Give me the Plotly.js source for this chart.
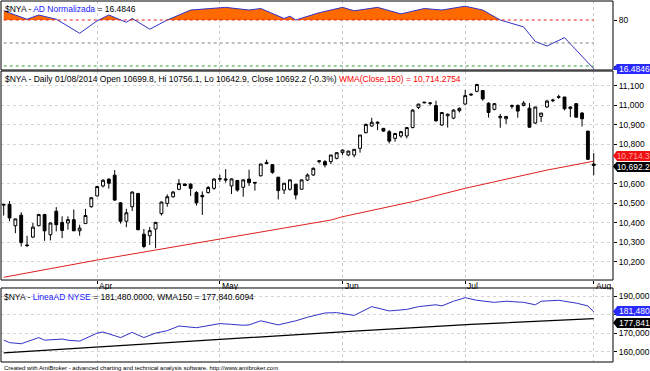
<!DOCTYPE html>
<html><head><meta charset="utf-8">
<script src="https://cdn.plot.ly/plotly-3.0.1.min.js"></script>
<style>html,body{margin:0;padding:0;background:#fff}#chart{width:650px;height:371px}</style>
</head><body><div id="chart"></div>
<script>
// ---------------- DATA ----------------
const dates = ['2014-03-10','2014-03-11','2014-03-12','2014-03-13','2014-03-14','2014-03-17','2014-03-18','2014-03-19','2014-03-20','2014-03-21','2014-03-24','2014-03-25','2014-03-26','2014-03-27','2014-03-28','2014-03-31',
'2014-04-01','2014-04-02','2014-04-03','2014-04-04','2014-04-07','2014-04-08','2014-04-09','2014-04-10','2014-04-11','2014-04-14','2014-04-15','2014-04-16','2014-04-17','2014-04-21','2014-04-22','2014-04-23','2014-04-24','2014-04-25','2014-04-28','2014-04-29','2014-04-30',
'2014-05-01','2014-05-02','2014-05-05','2014-05-06','2014-05-07','2014-05-08','2014-05-09','2014-05-12','2014-05-13','2014-05-14','2014-05-15','2014-05-16','2014-05-19','2014-05-20','2014-05-21','2014-05-22','2014-05-23','2014-05-27','2014-05-28','2014-05-29','2014-05-30',
'2014-06-02','2014-06-03','2014-06-04','2014-06-05','2014-06-06','2014-06-09','2014-06-10','2014-06-11','2014-06-12','2014-06-13','2014-06-16','2014-06-17','2014-06-18','2014-06-19','2014-06-20','2014-06-23','2014-06-24','2014-06-25','2014-06-26','2014-06-27','2014-06-30',
'2014-07-01','2014-07-02','2014-07-03','2014-07-07','2014-07-08','2014-07-09','2014-07-10','2014-07-11','2014-07-14','2014-07-15','2014-07-16','2014-07-17','2014-07-18','2014-07-21','2014-07-22','2014-07-23','2014-07-24','2014-07-25','2014-07-28','2014-07-29','2014-07-30','2014-07-31',
'2014-08-01'];
const openP = [10490,10494,10385,10439,10287,10327,10385,10442,10339,10459,10402,10399,10416,10359,10396,10482,
10537,10588,10623,10643,10502,10408,10482,10550,10342,10334,10368,10447,10499,10533,10571,10598,10597,10554,10540,10554,10576,
10622,10624,10588,10616,10581,10623,10602,10640,10708,10697,10633,10567,10571,10597,10571,10618,10644,10712,10712,10712,10729,
10758,10746,10746,10780,10860,10894,10908,10882,10865,10831,10843,10843,10886,10989,11012,11010,10998,10899,10946,10934,10972,
11006,11052,11071,11075,11010,10979,10936,10931,10994,10999,10999,10985,10909,10943,10991,11023,11040,11042,10983,11008,10960,10868,
10699.8];
const highP = [10496,10511,10420,10454,10334,10399,10446,10446,10402,10480,10433,10433,10468,10390,10471,10530,
10588,10623,10626,10669,10505,10471,10560,10552,10368,10378,10405,10508,10545,10562,10623,10600,10602,10562,10560,10588,10628,
10645,10674,10626,10619,10622,10671,10608,10702,10722,10700,10633,10602,10622,10597,10622,10652,10683,10720,10720,10746,10758,
10775,10768,10775,10848,10907,10936,10916,10882,10873,10856,10869,10889,10980,11006,11016,11015,11023,10963,10958,10980,10989,
11078,11060,11109,11075,11015,11011,10956,10943,11004,11004,11021,11011,10991,10960,11028,11033,11054,11042,10994,11011,10965,10868,
10756.1];
const lowP = [10437,10408,10347,10279,10276,10322,10382,10308,10310,10356,10322,10365,10359,10334,10396,10477,
10535,10580,10574,10511,10396,10378,10460,10361,10270,10287,10270,10437,10482,10528,10566,10588,10537,10488,10440,10550,10568,
10610,10605,10547,10559,10533,10588,10564,10636,10700,10650,10519,10547,10564,10519,10570,10613,10639,10703,10683,10700,10724,
10746,10740,10734,10758,10856,10890,10873,10865,10805,10814,10834,10831,10882,10980,11010,10999,10917,10894,10886,10929,10963,
11002,11047,11066,11023,10937,10974,10885,10905,10982,10936,10994,10885,10905,10914,10987,11016,11033,10974,10939,10936,10891,10720,
10642.9];
const closeP = [10494,10425,10420,10299,10284,10378,10442,10359,10399,10390,10361,10416,10359,10373,10437,10528,
10585,10617,10602,10516,10408,10451,10557,10365,10279,10360,10402,10506,10533,10557,10600,10590,10576,10502,10533,10580,10623,
10626,10619,10624,10567,10619,10605,10606,10700,10702,10657,10564,10602,10619,10542,10619,10644,10678,10716,10695,10746,10758,
10771,10766,10775,10848,10902,10913,10913,10868,10817,10856,10865,10886,10975,11006,11015,11011,10920,10963,10954,10975,10984,
11049,11056,11106,11032,10963,11008,10943,10943,10998,10970,11011,10888,10991,10960,11021,11026,11043,10982,10991,10939,10931,10724,
10692.2];

// WMA(Close,150)
const wmaDates = ['2014-03-10','2014-04-01','2014-04-15','2014-05-01','2014-05-29','2014-06-02','2014-06-18','2014-07-01','2014-07-22','2014-08-01'];
const wmaVals  = [10122,10210,10261,10318,10414,10431,10508,10576,10669,10714.2754];

// AD Normalizada (top panel)
const adDates = ['2014-03-10','2014-03-14','2014-03-18','2014-03-21','2014-03-24','2014-03-27','2014-04-01','2014-04-03','2014-04-08','2014-04-09','2014-04-14','2014-04-17','2014-04-24','2014-05-02','2014-05-08','2014-05-12','2014-05-16','2014-05-19','2014-05-20','2014-05-27','2014-06-02','2014-06-04','2014-06-10','2014-06-16','2014-06-20','2014-06-25','2014-07-01','2014-07-07','2014-07-10','2014-07-16','2014-07-18','2014-07-22','2014-07-25','2014-07-29','2014-08-01'];
const adVals  = [92,81,86.5,81,76.5,62.7,79,86.5,77,82,68,80,93,96.5,93,95,82,85,80,89.5,96.5,92,96.5,88,95,93,98,93,80,71,52,46,57,41,16.4846];
const adLevels = [80,50,20];

// LineaAD NYSE and its WMA150 (bottom panel)
const lineaDates = ['2014-03-10','2014-03-11','2014-03-13','2014-03-18','2014-03-19','2014-03-24','2014-03-25','2014-03-27','2014-04-01','2014-04-02','2014-04-07','2014-04-09','2014-04-11','2014-04-15','2014-04-17','2014-04-22','2014-04-25','2014-04-29','2014-05-01','2014-05-05','2014-05-07','2014-05-08','2014-05-12','2014-05-15','2014-05-20','2014-05-22','2014-05-28','2014-05-30','2014-06-04','2014-06-09','2014-06-12','2014-06-17','2014-06-19','2014-06-24','2014-06-25','2014-06-27','2014-07-01','2014-07-03','2014-07-09','2014-07-11','2014-07-16','2014-07-18','2014-07-21','2014-07-24','2014-07-29','2014-07-31','2014-08-01'];
const lineaVals  = [166300,165000,164400,167700,166300,166900,166300,165800,170100,170700,167700,170500,167700,170100,171400,173900,173000,173900,175200,174800,174300,174500,176700,174500,176700,178600,180900,181100,179600,184300,182000,182800,184300,185300,184700,187200,189100,187700,186600,187200,186600,185300,187200,187700,186200,184700,181480];
const lwmaDates = ['2014-03-10','2014-04-07','2014-05-06','2014-06-04','2014-07-02','2014-08-01'];
const lwmaVals  = [159500,163500,167400,171200,174800,177840.6094];

const monthTickDates = ['2014-04-01','2014-05-01','2014-06-02','2014-07-01','2014-08-01'];
const monthTickText  = ['Apr','May','Jun','Jul','Aug'];
const priceTicks = [10200,10300,10400,10500,10600,10700,10800,10900,11000,11100];
const adTicks = [20,80];
const lineaTicks = [160000,170000,180000,190000];

// ---------------- BUILD ----------------
const idx = d => dates.indexOf(d);
const X = dates.map((d,i)=>i);
const FONT = 'Liberation Sans, Arial, sans-serif';
const BLUE = '#3232c8';
const W = 650, H = 371, M = {l:1, r:37, t:1, b:9};
const plotH = H - M.t - M.b, plotW = W - M.l - M.r;

// orange fill above 80 (with crossings)
const adX = adDates.map(idx);
const lvl = adLevels[0];
const fx=[], fy=[];
for (let i=0;i<adX.length;i++){
  if (i>0){
    const v1=adVals[i-1], v2=adVals[i];
    if ((v1-lvl)*(v2-lvl)<0){
      const t=(lvl-v1)/(v2-v1);
      fx.push(adX[i-1]+t*(adX[i]-adX[i-1])); fy.push(lvl);
    }
  }
  fx.push(adX[i]); fy.push(Math.max(adVals[i],lvl));
}
const polyX = fx.concat([fx[fx.length-1], fx[0]]);
const polyY = fy.concat([lvl, lvl]);

const traces = [
  {type:'scatter', x:polyX, y:polyY, xaxis:'x', yaxis:'y', mode:'lines', fill:'toself', fillcolor:'#ff6a00', line:{width:0}, hoverinfo:'skip'},
  {type:'scatter', x:adX, y:adVals, xaxis:'x', yaxis:'y', mode:'lines', line:{color:BLUE, width:1}, hoverinfo:'skip'},
  {type:'candlestick', x:X, open:openP, high:highP, low:lowP, close:closeP, xaxis:'x', yaxis:'y2',
    increasing:{line:{color:'#000', width:1}, fillcolor:'#ffffff'},
    decreasing:{line:{color:'#000', width:1}, fillcolor:'#000000'}, whiskerwidth:0, hoverinfo:'skip'},
  {type:'scatter', x:wmaDates.map(idx), y:wmaVals, xaxis:'x', yaxis:'y2', mode:'lines', line:{color:'#e02020', width:1}, hoverinfo:'skip'},
  {type:'scatter', x:lwmaDates.map(idx), y:lwmaVals, xaxis:'x', yaxis:'y3', mode:'lines', line:{color:'#000', width:1.3}, hoverinfo:'skip'},
  {type:'scatter', x:lineaDates.map(idx), y:lineaVals, xaxis:'x', yaxis:'y3', mode:'lines', line:{color:BLUE, width:1}, hoverinfo:'skip'}
];

const n = dates.length-1;
const lastAD = adVals[adVals.length-1];
const lastW = wmaVals[wmaVals.length-1];
const lastL = lineaVals[lineaVals.length-1];
const lastLW = lwmaVals[lwmaVals.length-1];
const chg = (closeP[n]-closeP[n-1])/closeP[n-1]*100;
const dp = dates[n].split('-');
const fmt = (v,d)=> v.toLocaleString('en-US',{minimumFractionDigits:d, maximumFractionDigits:d});

const doms = [[0.8089,1],[0.2271,0.806],[0,0.205]];
const ranges = [[14.8,104.8],[10108,11174.5],[154600,194300]];
const axNames = ['y','y2','y3'];

const shapes = [];
const lvlColors = ['#e02020','#808080','#30a030'];
adLevels.forEach((v,k)=>shapes.push({type:'line', xref:'x', yref:'y', x0:0, x1:n, y0:v, y1:v, line:{color:lvlColors[k], width:1, dash:'dot'}, layer:'above'}));
doms.forEach(d=>shapes.push({type:'rect', xref:'paper', yref:'paper', x0:0, x1:1, y0:d[0], y1:d[1], line:{color:'#000', width:1}, fillcolor:'rgba(0,0,0,0)', layer:'above'}));

const tf = {family:FONT, size:8.5, color:'#000'};
const annotations = [
  {xref:'paper', yref:'paper', x:0, y:1, xanchor:'left', yanchor:'top', xshift:2, yshift:-1, showarrow:false, align:'left',
   text:'$NYA - <span style="color:#2020ff">AD Normalizada</span> = '+lastAD.toFixed(4), font:tf},
  {xref:'paper', yref:'paper', x:0, y:doms[1][1], xanchor:'left', yanchor:'top', xshift:2, yshift:-1, showarrow:false, align:'left',
   text:'$NYA - Daily '+dp[2]+'/'+dp[1]+'/'+dp[0]+' Open '+openP[n]+', Hi '+highP[n]+', Lo '+lowP[n]+', Close '+closeP[n]+' ('+chg.toFixed(1)+'%) <span style="color:#ff0000">WMA(Close,150) = '+fmt(lastW,4)+'</span>', font:tf},
  {xref:'paper', yref:'paper', x:0, y:doms[2][1], xanchor:'left', yanchor:'top', xshift:2, yshift:-3, showarrow:false, align:'left',
   borderpad:0, height:9, valign:'middle',
   text:'$NYA - <span style="color:#2020ff">LineaAD NYSE</span> = '+fmt(lastL,4)+', WMA150 = '+fmt(lastLW,4), font:tf},
  {xref:'paper', yref:'paper', x:0, y:0, xanchor:'left', yanchor:'top', xshift:1, yshift:-1, showarrow:false, align:'left',
   text:'Created with AmiBroker - advanced charting and technical analysis software. http://www.amibroker.com', font:{family:FONT, size:6, color:'#000'}}
];
// month labels just under the price panel, to the right of their ticks
monthTickDates.forEach((d,k)=>annotations.push({xref:'x', yref:'paper', x:idx(d), y:doms[1][0], xanchor:'left', yanchor:'top',
  xshift:1, yshift:0, showarrow:false, borderpad:0, height:9, valign:'middle', text:monthTickText[k], font:tf}));

// value boxes with left-pointing tips
const boxes = [
  {ax:0, v:lastAD, txt:lastAD.toFixed(4), bg:'#2a2aff', fg:'#fff', dy:0},
  {ax:1, v:lastW, txt:fmt(lastW,1), bg:'#ee1111', fg:'#ffa0a0', dy:5.5},
  {ax:1, v:closeP[n], txt:fmt(closeP[n],1), bg:'#000', fg:'#fff', dy:-1},
  {ax:2, v:lastL, txt:fmt(lastL,0), bg:'#2a2aff', fg:'#fff', dy:0.5},
  {ax:2, v:lastLW, txt:fmt(lastLW,0), bg:'#000', fg:'#fff', dy:-4}
];
boxes.forEach(b=>{
  annotations.push({xref:'paper', yref:axNames[b.ax], x:1, y:b.v, xanchor:'left', yanchor:'middle', xshift:4, yshift:b.dy,
    showarrow:false, bgcolor:b.bg, borderpad:0, borderwidth:0, width:33, height:10, align:'right', valign:'middle',
    text:b.txt, font:{family:FONT,size:8.5,color:b.fg}});
  const r = ranges[b.ax], d = doms[b.ax];
  const upp = (r[1]-r[0])/((d[1]-d[0])*plotH);   // data units per pixel
  const yc = b.v + b.dy*upp, hh = 5*upp;
  const x0 = 1, x1 = 1 + 4/plotW;
  shapes.push({type:'path', xref:'paper', yref:axNames[b.ax], path:`M ${x0} ${yc} L ${x1} ${yc+hh} L ${x1} ${yc-hh} Z`,
    fillcolor:b.bg, line:{width:0}, layer:'above'});
});

const ticksFor = (vals, hidden, f) => vals.map(v => hidden.includes(v) ? '' : f(v));
const yax = {side:'right', anchor:'x', ticks:'outside', ticklen:3, tickcolor:'#000', tickfont:{family:FONT,size:8.5,color:'#000'},
  showgrid:true, gridcolor:'#d4d4d4', griddash:'dot', zeroline:false, showline:false, fixedrange:true};

const layout = {
  width:W, height:H, margin:M, paper_bgcolor:'#fff', plot_bgcolor:'#fff', showlegend:false,
  xaxis:{type:'linear', range:[-0.46,104.3], anchor:'y2', tickvals:monthTickDates.map(idx), showticklabels:false,
    ticks:'outside', ticklen:3, tickcolor:'#000',
    showgrid:true, gridcolor:'#cccccc', griddash:'dot', zeroline:false, showline:false,
    rangeslider:{visible:false}, fixedrange:true},
  yaxis:Object.assign({}, yax, {domain:doms[0], range:ranges[0], tickvals:adTicks, ticktext:ticksFor(adTicks,[20],v=>String(v)), showgrid:false}),
  yaxis2:Object.assign({}, yax, {domain:doms[1], range:ranges[1], tickvals:priceTicks, ticktext:ticksFor(priceTicks,[10700],v=>fmt(v,0))}),
  yaxis3:Object.assign({}, yax, {domain:doms[2], range:ranges[2], tickvals:lineaTicks, ticktext:ticksFor(lineaTicks,[180000],v=>fmt(v,0))}),
  shapes:shapes, annotations:annotations
};
Plotly.newPlot('chart', traces, layout, {staticPlot:true, displayModeBar:false});
</script>
</body></html>
